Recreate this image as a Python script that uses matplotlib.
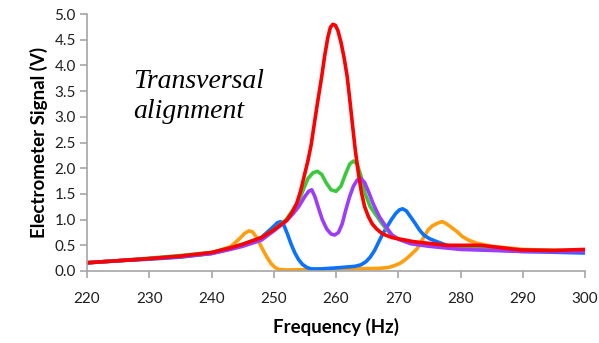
import matplotlib
matplotlib.use("Agg")
import matplotlib.pyplot as plt

# ---- data ----
red_f = [220, 225, 230, 235, 240, 243, 245, 248, 250, 252.1, 253, 253.7, 254.3, 255, 255.5, 256, 256.5, 257,
         257.7, 258.2, 258.7, 259.1, 259.5, 259.9, 260.3, 260.8, 261.3, 261.8, 262.2, 262.6, 263.1, 263.6,
         264.1, 264.6, 265.2, 265.8, 266.5, 267.5, 269, 272.5, 277.8, 283.2, 289.6, 295, 300]
red_v = [0.16, 0.2, 0.24, 0.29, 0.36, 0.45, 0.52, 0.65, 0.8, 0.99, 1.15, 1.32, 1.55, 1.9, 2.15, 2.45, 2.85, 3.25,
         3.78, 4.2, 4.55, 4.74, 4.8, 4.78, 4.68, 4.45, 4.15, 3.78, 3.35, 2.9, 2.35, 1.9,
         1.52, 1.25, 1.06, 0.92, 0.82, 0.72, 0.65, 0.57, 0.5, 0.5, 0.41, 0.4, 0.42]

green_f = [220, 225, 230, 235, 240, 243, 245, 248, 250, 252, 254, 254.8, 255.5, 256.3, 257, 257.7, 258.4, 259.2,
           260, 260.8, 261.5, 262.2, 262.8, 263.4, 264, 264.7, 265.5, 266.6, 267.4, 268.2, 269, 270, 272, 276,
           280, 290, 300]
green_v = [0.16, 0.2, 0.25, 0.3, 0.36, 0.45, 0.52, 0.65, 0.8, 1.0, 1.35, 1.6, 1.8, 1.91, 1.94, 1.88, 1.72, 1.58,
           1.55, 1.65, 1.88, 2.08, 2.14, 2.08, 1.85, 1.5, 1.25, 1.06, 0.92, 0.8, 0.7, 0.62, 0.55, 0.48,
           0.44, 0.4, 0.4]

purple_f = [220, 225, 230, 235, 240, 243, 245, 248, 250, 252, 253, 254, 255, 255.6, 256.1, 256.6, 257.2, 257.8,
            258.5, 259.2, 259.8, 260.4, 261, 261.6, 262.2, 262.8, 263.4, 264, 264.6, 265.3, 266, 267, 268.2,
            269, 270, 272, 275, 280, 290, 300]
purple_v = [0.16, 0.2, 0.24, 0.28, 0.34, 0.42, 0.48, 0.6, 0.78, 0.97, 1.1, 1.25, 1.45, 1.55, 1.58, 1.45, 1.22, 1.0,
            0.82, 0.72, 0.7, 0.75, 0.92, 1.2, 1.45, 1.65, 1.77, 1.8, 1.72, 1.52, 1.3, 1.05, 0.83,
            0.7, 0.62, 0.53, 0.48, 0.42, 0.38, 0.38]

blue_f = [220, 225, 230, 235, 240, 243, 245, 248, 249, 250, 250.6, 251.1, 251.6, 252.2, 252.8, 253.4, 254, 254.6,
          255.3, 256, 257.5, 260, 263, 264, 264.8, 265.5, 266.2, 266.8, 267.5, 268.2, 268.9, 269.6, 270.2,
          270.7, 271.3, 272, 272.7, 273.4, 274.1, 275, 276, 277.8, 280, 290, 300]
blue_v = [0.16, 0.2, 0.23, 0.27, 0.34, 0.43, 0.5, 0.65, 0.76, 0.87, 0.94, 0.96, 0.9, 0.72, 0.52, 0.35, 0.22, 0.13,
          0.07, 0.04, 0.04, 0.06, 0.09, 0.12, 0.18, 0.27, 0.4, 0.55, 0.72, 0.86, 1.0, 1.12, 1.19,
          1.21, 1.17, 1.05, 0.93, 0.8, 0.7, 0.63, 0.58, 0.5, 0.45, 0.38, 0.35]

orange_f = [220, 225, 230, 235, 240, 243, 243.8, 244.6, 245.3, 246, 246.6, 247.2, 247.8, 248.4, 249, 249.6,
            250.2, 250.8, 252, 260, 267, 268.5, 269.5, 270.3, 271, 271.7, 272.4, 273, 273.6, 274.2, 274.8,
            275.5, 276.3, 277, 277.6, 278.3, 279.4, 280.3, 281.3, 282.6, 285, 290, 300]
orange_v = [0.16, 0.2, 0.24, 0.28, 0.35, 0.47, 0.55, 0.64, 0.73, 0.78, 0.76, 0.66, 0.52, 0.38, 0.25, 0.14,
            0.07, 0.03, 0.02, 0.04, 0.05, 0.07, 0.11, 0.15, 0.21, 0.28, 0.36, 0.43, 0.55, 0.68, 0.8,
            0.88, 0.93, 0.96, 0.93, 0.87, 0.77, 0.67, 0.6, 0.54, 0.48, 0.42, 0.38]

x_ticks = [220, 230, 240, 250, 260, 270, 280, 290, 300]
y_ticks = [0.0, 0.5, 1.0, 1.5, 2.0, 2.5, 3.0, 3.5, 4.0, 4.5, 5.0]

W, H = 599, 343
fig = plt.figure(figsize=(W / 100, H / 100), dpi=100)
ax = fig.add_axes([87 / W, (H - 271) / H, (585 - 87) / W, (271 - 14) / H])

lw = 2.6
kw = dict(lw=lw, solid_capstyle="round", solid_joinstyle="round")
ax.plot(orange_f, orange_v, color="#FF9E0F", **kw)
ax.plot(blue_f, blue_v, color="#0A72FF", **kw)
ax.plot(green_f, green_v, color="#3CC83C", **kw)
ax.plot(purple_f, purple_v, color="#9B3CFF", **kw)
ax.plot(red_f, red_v, color="#FF0000", **kw)

ax.set_xlim(220, 300)
ax.set_ylim(0, 5)
ax.set_xticks(x_ticks)
ax.set_xticklabels([str(t) for t in x_ticks])
ax.set_yticks(y_ticks)
ax.set_yticklabels([f"{t:.1f}" for t in y_ticks])

for s in ["top", "right"]:
    ax.spines[s].set_visible(False)
for s in ["left", "bottom"]:
    ax.spines[s].set_color("#A6A6A6")
    ax.spines[s].set_linewidth(1.2)

font = "Lato"
ax.tick_params(axis="both", colors="#A6A6A6", labelcolor="#1F1F1F", length=5, width=1.2,
               labelsize=11)
for lab in ax.get_xticklabels() + ax.get_yticklabels():
    lab.set_family(font)
ax.tick_params(axis="x", pad=10)
ax.tick_params(axis="y", pad=3)

ax.set_xlabel("Frequency (Hz)", fontsize=13.5, fontweight="bold", family=font, labelpad=9)
ax.set_ylabel("Electrometer Signal (V)", fontsize=13.5, fontweight="bold", family=font, labelpad=5)

fig.text(133 / W, 1 - 82 / H, "Transversal", family="Liberation Serif", style="italic",
         fontsize=20, va="center", ha="left")
fig.text(133 / W, 1 - 112 / H, "alignment", family="Liberation Serif", style="italic",
         fontsize=20, va="center", ha="left")

fig.savefig("out.png", dpi=100)
